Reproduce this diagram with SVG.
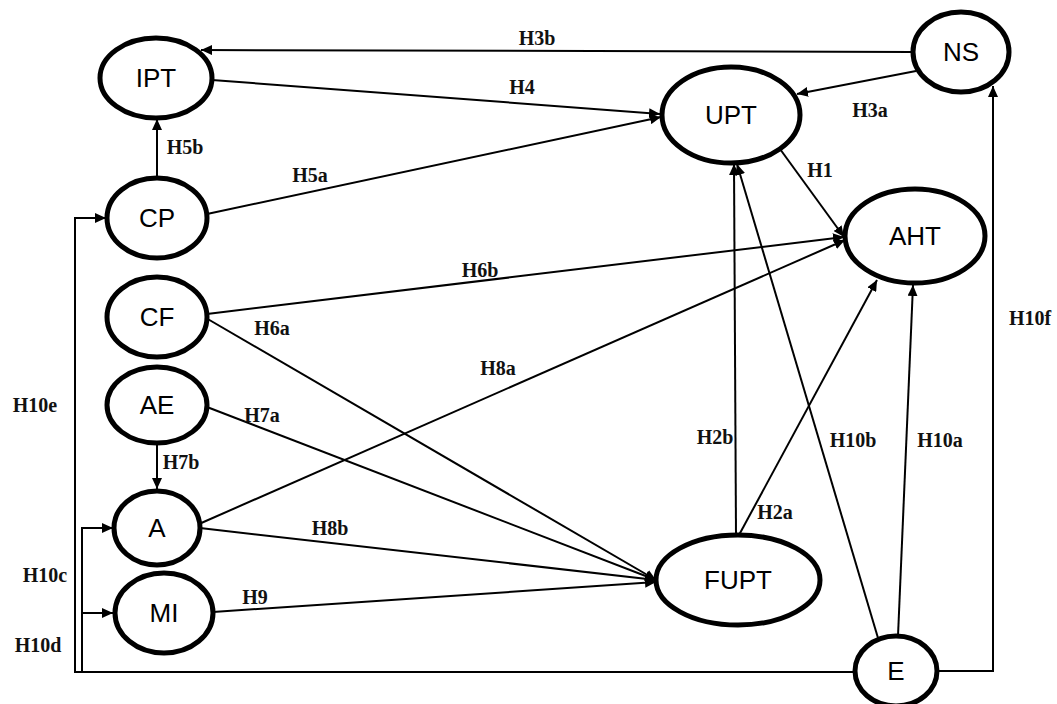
<svg xmlns="http://www.w3.org/2000/svg" width="1057" height="704" viewBox="0 0 1057 704">
  <style>
    .node ellipse { fill: #ffffff; stroke: #000000; stroke-width: 5; }
    .node text { font-family: "Liberation Sans", Arial, sans-serif; font-size: 26px; fill: #000000; text-anchor: middle; }
    .edge { fill: none; stroke: #000000; stroke-width: 2; }
    .arrow { marker-end: url(#head); }
    .lbl { font-family: "Liberation Serif", "Times New Roman", serif; font-size: 20px; font-weight: bold; fill: #111111; text-anchor: middle; }
  </style>
  <defs>
    <marker id="head" markerUnits="userSpaceOnUse" markerWidth="12" markerHeight="10" refX="11" refY="5" orient="auto">
      <path d="M0,0 L11,5 L0,10 z" fill="#000000"/>
    </marker>
  </defs>

  <rect width="1057" height="704" fill="#ffffff"/>

  <!-- connectors -->
  <g id="connectors">
    <line class="edge arrow" x1="912" y1="52" x2="201" y2="50"/>
    <line class="edge arrow" x1="916" y1="71" x2="797" y2="94"/>
    <line class="edge arrow" x1="212" y1="80" x2="660" y2="114"/>
    <line class="edge arrow" x1="207" y1="214" x2="661" y2="117"/>
    <line class="edge arrow" x1="157" y1="177" x2="157" y2="119"/>
    <line class="edge arrow" x1="780" y1="149" x2="844" y2="237"/>
    <line class="edge arrow" x1="207" y1="314" x2="844" y2="237"/>
    <line class="edge arrow" x1="206" y1="318" x2="656" y2="580"/>
    <line class="edge arrow" x1="207" y1="407" x2="656" y2="580"/>
    <line class="edge arrow" x1="200" y1="528" x2="656" y2="580"/>
    <line class="edge arrow" x1="213" y1="612" x2="656" y2="582"/>
    <line class="edge arrow" x1="199" y1="524" x2="845" y2="240"/>
    <line class="edge arrow" x1="157" y1="443" x2="157" y2="489"/>
    <line class="edge arrow" x1="736" y1="535" x2="734" y2="164"/>
    <line class="edge arrow" x1="739" y1="535" x2="877" y2="280"/>
    <line class="edge arrow" x1="878" y1="638" x2="737" y2="164"/>
    <line class="edge arrow" x1="898" y1="636" x2="913" y2="285"/>
    <polyline class="edge arrow" points="937,671 993,671 993,86"/>
    <polyline class="edge arrow" points="855,672 75,672 75,218 106,218"/>
    <polyline class="edge arrow" points="82,672 82,528 113,528"/>
    <polyline class="edge arrow" points="82,613 113,613"/>
  </g>

  <!-- path labels -->
  <g id="labels">
    <text class="lbl" x="537" y="45">H3b</text>
    <text class="lbl" x="522" y="94">H4</text>
    <text class="lbl" x="870" y="117">H3a</text>
    <text class="lbl" x="185" y="154">H5b</text>
    <text class="lbl" x="310" y="182">H5a</text>
    <text class="lbl" x="820" y="177">H1</text>
    <text class="lbl" x="480" y="277">H6b</text>
    <text class="lbl" x="272" y="335">H6a</text>
    <text class="lbl" x="498" y="375">H8a</text>
    <text class="lbl" x="1030" y="325">H10f</text>
    <text class="lbl" x="35" y="412">H10e</text>
    <text class="lbl" x="262" y="422">H7a</text>
    <text class="lbl" x="853" y="447">H10b</text>
    <text class="lbl" x="940" y="447">H10a</text>
    <text class="lbl" x="715" y="444">H2b</text>
    <text class="lbl" x="181" y="469">H7b</text>
    <text class="lbl" x="775" y="519">H2a</text>
    <text class="lbl" x="330" y="535">H8b</text>
    <text class="lbl" x="45" y="582">H10c</text>
    <text class="lbl" x="255" y="604">H9</text>
    <text class="lbl" x="38" y="652">H10d</text>
  </g>

  <!-- constructs -->
  <g id="IPT" class="node"><ellipse cx="156" cy="78" rx="56" ry="40"/><text x="156" y="87">IPT</text></g>
  <g id="CP" class="node"><ellipse cx="157" cy="218" rx="50" ry="40"/><text x="157" y="227">CP</text></g>
  <g id="CF" class="node"><ellipse cx="157" cy="317" rx="50" ry="40"/><text x="157" y="326">CF</text></g>
  <g id="AE" class="node"><ellipse cx="157" cy="405" rx="50" ry="38"/><text x="157" y="414">AE</text></g>
  <g id="A" class="node"><ellipse cx="157" cy="528" rx="43" ry="37"/><text x="157" y="537">A</text></g>
  <g id="MI" class="node"><ellipse cx="164" cy="613" rx="49" ry="40"/><text x="164" y="622">MI</text></g>
  <g id="UPT" class="node"><ellipse cx="731" cy="115" rx="69" ry="48"/><text x="731" y="124">UPT</text></g>
  <g id="NS" class="node"><ellipse cx="961" cy="52" rx="48" ry="40"/><text x="961" y="61">NS</text></g>
  <g id="AHT" class="node"><ellipse cx="915" cy="236" rx="70" ry="47"/><text x="915" y="245">AHT</text></g>
  <g id="FUPT" class="node"><ellipse cx="738" cy="580" rx="82" ry="45"/><text x="738" y="589">FUPT</text></g>
  <g id="E" class="node"><ellipse cx="896" cy="671" rx="41" ry="35"/><text x="896" y="680">E</text></g>
</svg>
